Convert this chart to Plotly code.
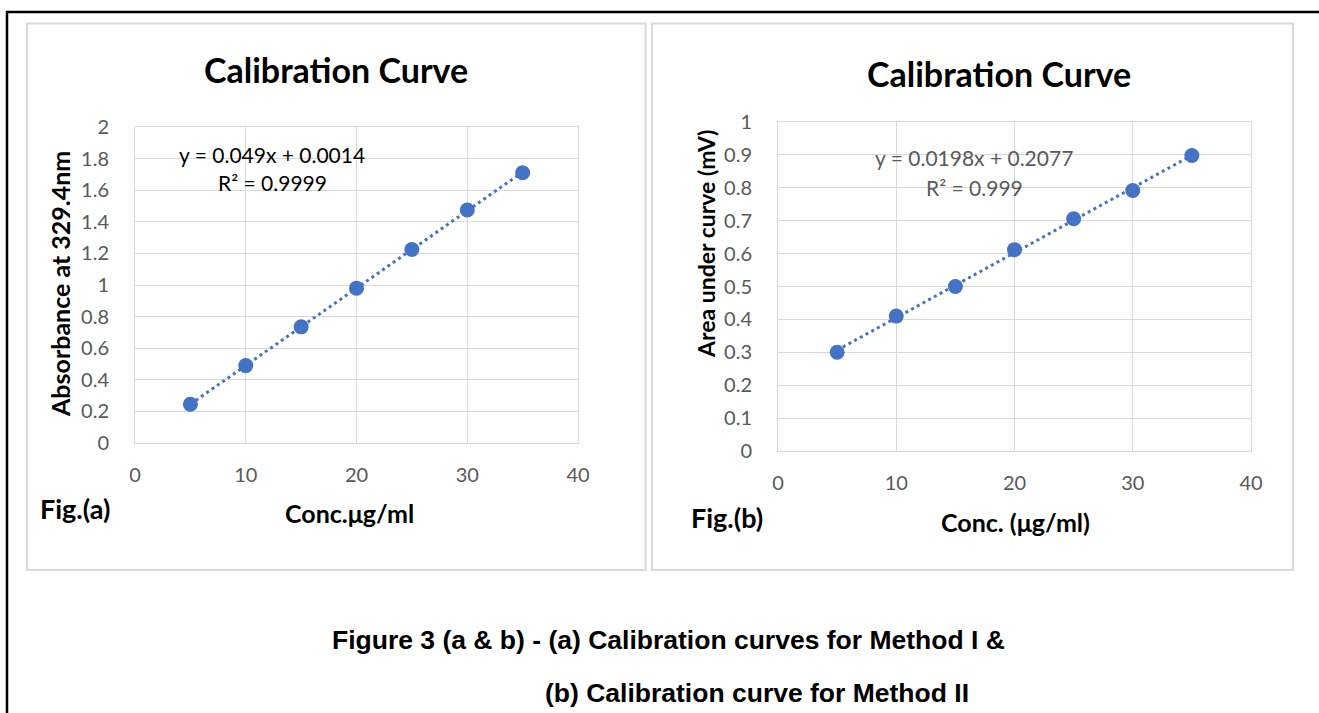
import numpy as np
import plotly.graph_objects as go

# ---- data ----
conc = [5, 10, 15, 20, 25, 30, 35]
absorbance = [0.245, 0.49, 0.735, 0.98, 1.225, 1.475, 1.71]
area = [0.30, 0.41, 0.50, 0.612, 0.706, 0.792, 0.898]
eq_a = ["y = 0.049x + 0.0014", "R² = 0.9999"]
eq_b = ["y = 0.0198x + 0.2077", "R² = 0.999"]
x_ticks = [0, 10, 20, 30, 40]
ya_ticks = [0, 0.2, 0.4, 0.6, 0.8, 1, 1.2, 1.4, 1.6, 1.8, 2]
yb_ticks = [0, 0.1, 0.2, 0.3, 0.4, 0.5, 0.6, 0.7, 0.8, 0.9, 1]

W, H = 1319, 713
BLUE = "#4472C4"
GRID = "#d9d9d9"
TICK = "#595959"
FONT = "Lato"
CAPFONT = "Liberation Sans Narrow, Liberation Sans, Arial"


def px(x):
    return x / W


def py(y):
    return 1 - y / H


def fit(xs, ys):
    m, c = np.polyfit(xs, ys, 1)
    xx = np.array([min(xs), max(xs)], dtype=float)
    return xx, m * xx + c


fig = go.Figure()

xa, ya = fit(conc, absorbance)
fig.add_trace(go.Scatter(x=xa, y=ya, mode="lines", line=dict(color=BLUE, width=3, dash="3px,3.5px"),
                         xaxis="x", yaxis="y", hoverinfo="skip"))
fig.add_trace(go.Scatter(x=conc, y=absorbance, mode="markers", marker=dict(color=BLUE, size=15),
                         xaxis="x", yaxis="y"))
xb, yb = fit(conc, area)
fig.add_trace(go.Scatter(x=xb, y=yb, mode="lines", line=dict(color=BLUE, width=3, dash="3px,3.5px"),
                         xaxis="x2", yaxis="y2", hoverinfo="skip"))
fig.add_trace(go.Scatter(x=conc, y=area, mode="markers", marker=dict(color=BLUE, size=15),
                         xaxis="x2", yaxis="y2"))

axis_common = dict(showgrid=True, gridcolor=GRID, gridwidth=1, zeroline=False,
                   showline=True, linecolor=GRID, linewidth=1, mirror=True,
                   tickfont=dict(family=FONT, size=20, color=TICK), ticks="",
                   fixedrange=True, automargin=False)

fig.update_layout(
    width=W, height=H, margin=dict(l=0, r=0, t=0, b=0, pad=0), autosize=False,
    paper_bgcolor="white", plot_bgcolor="white", showlegend=False,
    xaxis=dict(domain=[px(135), px(578)], range=[0, 40], tickvals=x_ticks, anchor="y",
               ticklabelstandoff=14, **axis_common),
    yaxis=dict(domain=[py(443), py(127)], range=[0, 2], tickvals=ya_ticks,
               ticktext=[f"{v:g}" for v in ya_ticks], anchor="x", ticklabelstandoff=21, **axis_common),
    xaxis2=dict(domain=[px(778), px(1251)], range=[0, 40], tickvals=x_ticks, anchor="y2",
                ticklabelstandoff=14, **axis_common),
    yaxis2=dict(domain=[py(451), py(122)], range=[0, 1], tickvals=yb_ticks,
                ticktext=[f"{v:g}" for v in yb_ticks], anchor="x2", ticklabelstandoff=21, **axis_common),
)

shapes = [
    # panel borders
    dict(type="rect", xref="paper", yref="paper", x0=px(27), x1=px(645.5), y0=py(570), y1=py(23.5),
         line=dict(color=GRID, width=2), layer="below"),
    dict(type="rect", xref="paper", yref="paper", x0=px(652), x1=px(1293), y0=py(570), y1=py(23.5),
         line=dict(color=GRID, width=2), layer="below"),
    # outer black frame (left and top)
    dict(type="line", xref="paper", yref="paper", x0=px(7), x1=px(7), y0=py(11), y1=0,
         line=dict(color="black", width=2.5)),
    dict(type="line", xref="paper", yref="paper", x0=px(6), x1=1, y0=py(12), y1=py(12),
         line=dict(color="black", width=2.5)),
]
fig.update_layout(shapes=shapes)


def ann(text, x, y, size, bold=False, color="black", angle=0, family=FONT, xanchor="center"):
    t = f"<b>{text}</b>" if bold else text
    return dict(text=t, x=px(x), y=py(y), xref="paper", yref="paper", showarrow=False,
                xanchor=xanchor, yanchor="middle", textangle=angle,
                font=dict(family=family, size=size, color=color))


annotations = [
    ann("Calibration Curve", 336, 70, 34, bold=True),
    ann("Calibration Curve", 999, 73, 34, bold=True),
    ann("Absorbance at 329.4nm", 60, 284, 25, bold=True, angle=-90),
    ann("Area under curve (mV)", 706, 244, 23, bold=True, angle=-90),
    ann("Conc.μg/ml", 349, 513, 25, bold=True),
    ann("Conc. (μg/ml)", 1015, 522, 25, bold=True),
    ann("Fig.(a)", 75, 508, 27, bold=True),
    ann("Fig.(b)", 727, 517, 27, bold=True),
    ann(eq_a[0], 272, 155, 21),
    ann(eq_a[1], 272, 183, 21),
    ann(eq_b[0], 974, 157, 21, color=TICK),
    ann(eq_b[1], 974, 187, 21, color=TICK),
    ann("Figure 3 (a & b) - (a) Calibration curves for Method I &", 330, 640, 26.5, bold=True,
        family=CAPFONT, xanchor="left"),
    ann("(b) Calibration curve for Method II", 543, 693, 26.5, bold=True,
        family=CAPFONT, xanchor="left"),
]
fig.update_layout(annotations=annotations)

fig.write_html("out.html", config={"displayModeBar": False},
               post_script="document.body.style.margin='0';document.body.style.overflow='hidden';")
